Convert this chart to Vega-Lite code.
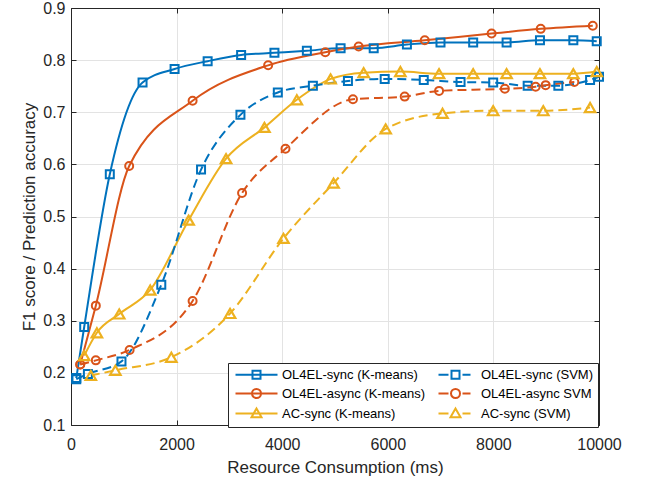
{
  "$schema": "https://vega.github.io/schema/vega-lite/v6.json",
  "autosize": {"type": "none"},
  "padding": {"left": 71, "top": 8, "right": 52, "bottom": 57},
  "width": 528,
  "height": 417,
  "background": "white",
  "config": {
    "view": {"stroke": null},
    "axis": {
      "domainColor": "#262626", "tickColor": "#262626", "labelColor": "#262626", "titleColor": "#262626",
      "labelFont": "Liberation Sans", "titleFont": "Liberation Sans", "labelFontSize": 16, "titleFontSize": 17,
      "titleFontWeight": "normal", "gridColor": "#e3e3e3", "gridWidth": 1, "domainWidth": 1, "tickWidth": 1,
      "labelOverlap": false, "labelFlush": false
    },
    "legend": {
      "labelFont": "Liberation Sans", "labelFontSize": 13, "labelColor": "#000000"
    }
  },
  "data": {
    "values": [
      {"series": "OL4EL-sync (K-means)", "x": 100, "y": 0.19},
      {"series": "OL4EL-sync (K-means)", "x": 250, "y": 0.288},
      {"series": "OL4EL-sync (K-means)", "x": 735, "y": 0.581},
      {"series": "OL4EL-sync (K-means)", "x": 1355, "y": 0.757},
      {"series": "OL4EL-sync (K-means)", "x": 1962, "y": 0.783},
      {"series": "OL4EL-sync (K-means)", "x": 2588, "y": 0.798},
      {"series": "OL4EL-sync (K-means)", "x": 3222, "y": 0.81},
      {"series": "OL4EL-sync (K-means)", "x": 3853, "y": 0.814},
      {"series": "OL4EL-sync (K-means)", "x": 4467, "y": 0.818},
      {"series": "OL4EL-sync (K-means)", "x": 5106, "y": 0.823},
      {"series": "OL4EL-sync (K-means)", "x": 5733, "y": 0.823},
      {"series": "OL4EL-sync (K-means)", "x": 6362, "y": 0.83},
      {"series": "OL4EL-sync (K-means)", "x": 6998, "y": 0.834},
      {"series": "OL4EL-sync (K-means)", "x": 7617, "y": 0.834},
      {"series": "OL4EL-sync (K-means)", "x": 8250, "y": 0.834},
      {"series": "OL4EL-sync (K-means)", "x": 8882, "y": 0.838},
      {"series": "OL4EL-sync (K-means)", "x": 9514, "y": 0.838},
      {"series": "OL4EL-sync (K-means)", "x": 9957, "y": 0.836},

      {"series": "OL4EL-async (K-means)", "x": 175, "y": 0.216},
      {"series": "OL4EL-async (K-means)", "x": 470, "y": 0.329},
      {"series": "OL4EL-async (K-means)", "x": 1102, "y": 0.597},
      {"series": "OL4EL-async (K-means)", "x": 2303, "y": 0.722},
      {"series": "OL4EL-async (K-means)", "x": 3734, "y": 0.79},
      {"series": "OL4EL-async (K-means)", "x": 4816, "y": 0.815},
      {"series": "OL4EL-async (K-means)", "x": 5448, "y": 0.826},
      {"series": "OL4EL-async (K-means)", "x": 6700, "y": 0.838},
      {"series": "OL4EL-async (K-means)", "x": 7966, "y": 0.851},
      {"series": "OL4EL-async (K-means)", "x": 8896, "y": 0.86},
      {"series": "OL4EL-async (K-means)", "x": 9882, "y": 0.866},

      {"series": "AC-sync (K-means)", "x": 250, "y": 0.233},
      {"series": "AC-sync (K-means)", "x": 490, "y": 0.277},
      {"series": "AC-sync (K-means)", "x": 913, "y": 0.313},
      {"series": "AC-sync (K-means)", "x": 1500, "y": 0.359},
      {"series": "AC-sync (K-means)", "x": 2228, "y": 0.493},
      {"series": "AC-sync (K-means)", "x": 2937, "y": 0.611},
      {"series": "AC-sync (K-means)", "x": 3664, "y": 0.671},
      {"series": "AC-sync (K-means)", "x": 4277, "y": 0.724},
      {"series": "AC-sync (K-means)", "x": 4917, "y": 0.764},
      {"series": "AC-sync (K-means)", "x": 5543, "y": 0.776},
      {"series": "AC-sync (K-means)", "x": 6238, "y": 0.778},
      {"series": "AC-sync (K-means)", "x": 6971, "y": 0.774},
      {"series": "AC-sync (K-means)", "x": 7617, "y": 0.774},
      {"series": "AC-sync (K-means)", "x": 8250, "y": 0.774},
      {"series": "AC-sync (K-means)", "x": 8882, "y": 0.774},
      {"series": "AC-sync (K-means)", "x": 9514, "y": 0.774},
      {"series": "AC-sync (K-means)", "x": 9957, "y": 0.778},

      {"series": "OL4EL-sync (SVM)", "x": 100, "y": 0.188},
      {"series": "OL4EL-sync (SVM)", "x": 320, "y": 0.198},
      {"series": "OL4EL-sync (SVM)", "x": 956, "y": 0.222},
      {"series": "OL4EL-sync (SVM)", "x": 1710, "y": 0.369},
      {"series": "OL4EL-sync (SVM)", "x": 2463, "y": 0.59},
      {"series": "OL4EL-sync (SVM)", "x": 3209, "y": 0.695},
      {"series": "OL4EL-sync (SVM)", "x": 3917, "y": 0.738},
      {"series": "OL4EL-sync (SVM)", "x": 4581, "y": 0.751},
      {"series": "OL4EL-sync (SVM)", "x": 5245, "y": 0.76},
      {"series": "OL4EL-sync (SVM)", "x": 5941, "y": 0.764},
      {"series": "OL4EL-sync (SVM)", "x": 6681, "y": 0.762},
      {"series": "OL4EL-sync (SVM)", "x": 7378, "y": 0.758},
      {"series": "OL4EL-sync (SVM)", "x": 7996, "y": 0.757},
      {"series": "OL4EL-sync (SVM)", "x": 8649, "y": 0.751},
      {"series": "OL4EL-sync (SVM)", "x": 9230, "y": 0.751},
      {"series": "OL4EL-sync (SVM)", "x": 9831, "y": 0.762},
      {"series": "OL4EL-sync (SVM)", "x": 10000, "y": 0.768},

      {"series": "OL4EL-async SVM", "x": 175, "y": 0.216},
      {"series": "OL4EL-async SVM", "x": 470, "y": 0.224},
      {"series": "OL4EL-async SVM", "x": 1110, "y": 0.244},
      {"series": "OL4EL-async SVM", "x": 2303, "y": 0.338},
      {"series": "OL4EL-async SVM", "x": 3240, "y": 0.545},
      {"series": "OL4EL-async SVM", "x": 4062, "y": 0.63},
      {"series": "OL4EL-async SVM", "x": 5340, "y": 0.725},
      {"series": "OL4EL-async SVM", "x": 6320, "y": 0.73},
      {"series": "OL4EL-async SVM", "x": 6971, "y": 0.741},
      {"series": "OL4EL-async SVM", "x": 8217, "y": 0.745},
      {"series": "OL4EL-async SVM", "x": 8800, "y": 0.749},
      {"series": "OL4EL-async SVM", "x": 8990, "y": 0.752},
      {"series": "OL4EL-async SVM", "x": 9533, "y": 0.758},

      {"series": "AC-sync (SVM)", "x": 375, "y": 0.195},
      {"series": "AC-sync (SVM)", "x": 840, "y": 0.205},
      {"series": "AC-sync (SVM)", "x": 1900, "y": 0.23},
      {"series": "AC-sync (SVM)", "x": 3013, "y": 0.314},
      {"series": "AC-sync (SVM)", "x": 4025, "y": 0.458},
      {"series": "AC-sync (SVM)", "x": 4973, "y": 0.564},
      {"series": "AC-sync (SVM)", "x": 5960, "y": 0.668},
      {"series": "AC-sync (SVM)", "x": 7036, "y": 0.698},
      {"series": "AC-sync (SVM)", "x": 7996, "y": 0.703},
      {"series": "AC-sync (SVM)", "x": 8945, "y": 0.703},
      {"series": "AC-sync (SVM)", "x": 9831, "y": 0.709}
    ]
  },
  "encoding": {
    "color": {
      "field": "series", "type": "nominal",
      "scale": {
        "domain": ["OL4EL-sync (K-means)", "OL4EL-async (K-means)", "AC-sync (K-means)", "OL4EL-sync (SVM)", "OL4EL-async SVM", "AC-sync (SVM)"],
        "range": ["#0072BD", "#D95319", "#EDB120", "#0072BD", "#D95319", "#EDB120"]
      },
      "legend": {
        "title": null, "orient": "none", "legendX": 157, "legendY": 355, "columns": 2,
        "strokeColor": "#262626", "fillColor": "white", "padding": 5,
        "symbolSize": 100, "symbolStrokeWidth": 2, "labelOffset": 36, "columnPadding": 6, "rowPadding": 2,
        "encode": {
          "symbols": {
            "update": {
              "shape": {"signal": "['M-0.8,0H7.6M2.6,-0.8H4.2V0.8H2.6Z', 'M-0.8,0H7.6M4.3,0A0.9,0.9,0,1,1,2.5,0A0.9,0.9,0,1,1,4.3,0Z', 'M-0.8,0H7.6M3.4,-1L4.4,0.75H2.4Z', 'M0,0H2M4.8,0H6.4M2.6,-0.8H4.2V0.8H2.6Z', 'M0,0H2M4.8,0H6.4M4.3,0A0.9,0.9,0,1,1,2.5,0A0.9,0.9,0,1,1,4.3,0Z', 'M0,0H2M4.8,0H6.4M3.4,-1L4.4,0.75H2.4Z'][indexof(['OL4EL-sync (K-means)', 'OL4EL-async (K-means)', 'AC-sync (K-means)', 'OL4EL-sync (SVM)', 'OL4EL-async SVM', 'AC-sync (SVM)'], datum.value)]"},
              "fill": {"value": "transparent"},
              "strokeWidth": {"value": 2}
            }
          }
        }
      }
    }
  },
  "resolve": {"axis": {"x": "independent", "y": "independent"}},
  "layer": [
    {
      "mark": {"type": "point", "opacity": 0},
      "encoding": {
        "x": {"field": "x", "type": "quantitative", "scale": {"domain": [0, 10000], "nice": false},
              "axis": {"orient": "top", "labels": false, "grid": false, "title": null, "tickSize": -5, "values": [0, 2000, 4000, 6000, 8000, 10000]}},
        "y": {"field": "y", "type": "quantitative", "scale": {"domain": [0.1, 0.9], "nice": false, "zero": false},
              "axis": {"orient": "right", "labels": false, "grid": false, "title": null, "tickSize": -5, "values": [0.1, 0.2, 0.3, 0.4, 0.5, 0.6, 0.7, 0.8, 0.9]}}
      }
    },
    {
      "transform": [{"filter": {"field": "series", "oneOf": ["OL4EL-sync (K-means)", "OL4EL-async (K-means)", "AC-sync (K-means)"]}}],
      "mark": {"type": "line", "interpolate": "monotone", "strokeWidth": 2},
      "encoding": {
        "x": {"field": "x", "type": "quantitative",
              "axis": {"orient": "bottom", "title": "Resource Consumption (ms)", "grid": true, "tickSize": -5, "labelPadding": 16, "titlePadding": 7, "format": "d", "values": [0, 2000, 4000, 6000, 8000, 10000]}},
        "y": {"field": "y", "type": "quantitative",
              "axis": {"orient": "left", "title": "F1 score / Prediction accuracy", "grid": true, "tickSize": -5, "labelPadding": 11, "titlePadding": 4, "format": ".1f", "values": [0.1, 0.2, 0.3, 0.4, 0.5, 0.6, 0.7, 0.8, 0.9]}}
      }
    },
    {
      "transform": [{"filter": {"field": "series", "oneOf": ["OL4EL-sync (SVM)", "OL4EL-async SVM", "AC-sync (SVM)"]}}],
      "mark": {"type": "line", "interpolate": "monotone", "strokeWidth": 2, "strokeDash": [9, 5]},
      "encoding": {
        "x": {"field": "x", "type": "quantitative", "axis": null},
        "y": {"field": "y", "type": "quantitative", "axis": null}
      }
    },
    {
      "transform": [{"filter": {"field": "series", "oneOf": ["OL4EL-sync (K-means)", "OL4EL-sync (SVM)"]}}],
      "mark": {"type": "point", "shape": "square", "size": 64, "filled": false, "strokeWidth": 2, "opacity": 1},
      "encoding": {
        "x": {"field": "x", "type": "quantitative", "axis": null},
        "y": {"field": "y", "type": "quantitative", "axis": null}
      }
    },
    {
      "transform": [{"filter": {"field": "series", "oneOf": ["OL4EL-async (K-means)", "OL4EL-async SVM"]}}],
      "mark": {"type": "point", "shape": "circle", "size": 64, "filled": false, "strokeWidth": 2, "opacity": 1},
      "encoding": {
        "x": {"field": "x", "type": "quantitative", "axis": null},
        "y": {"field": "y", "type": "quantitative", "axis": null}
      }
    },
    {
      "transform": [{"filter": {"field": "series", "oneOf": ["AC-sync (K-means)", "AC-sync (SVM)"]}}],
      "mark": {"type": "point", "shape": "triangle-up", "size": 110, "filled": false, "strokeWidth": 2.2, "opacity": 1},
      "encoding": {
        "x": {"field": "x", "type": "quantitative", "axis": null},
        "y": {"field": "y", "type": "quantitative", "axis": null}
      }
    }
  ]
}
